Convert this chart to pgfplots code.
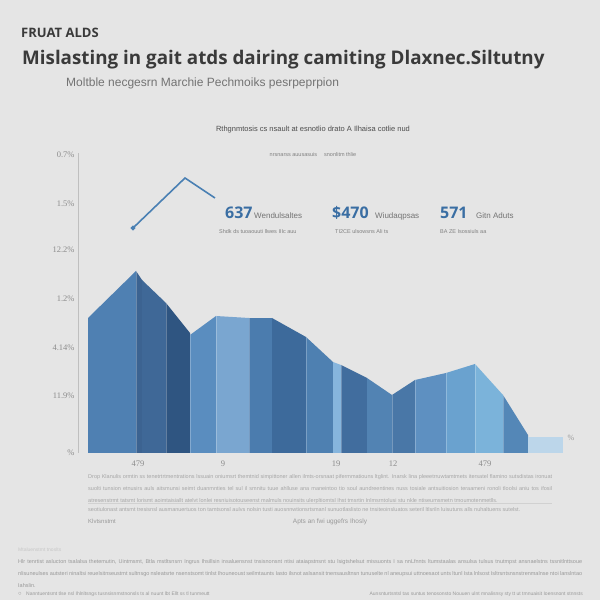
\documentclass[border=0pt]{standalone}
\usepackage{pgfplots}
\pgfplotsset{compat=1.18}
\usepackage{fontspec}
\setmainfont{Liberation Sans}
\newfontfamily\headfont{Open Sans}
\newfontfamily\tickfont{Liberation Serif}
\definecolor{bgc}{HTML}{E5E5E5}
\definecolor{txt}{HTML}{3A3A3A}
\definecolor{stat}{HTML}{3A6EA3}
\definecolor{ln}{HTML}{4A80B3}
\definecolor{s1}{HTML}{4F80B2}
\definecolor{s2}{HTML}{3C6391}
\definecolor{s3}{HTML}{3F6897}
\definecolor{s4}{HTML}{2F5581}
\definecolor{s5}{HTML}{5A8DBF}
\definecolor{s6}{HTML}{7AA6D0}
\definecolor{s7}{HTML}{4B7CAE}
\definecolor{s8}{HTML}{3D6A9B}
\definecolor{s9}{HTML}{4E80B1}
\definecolor{s10}{HTML}{86B5DD}
\definecolor{s11}{HTML}{416D9E}
\definecolor{s12}{HTML}{5283B3}
\definecolor{s13}{HTML}{4977A7}
\definecolor{s14}{HTML}{5E90C1}
\definecolor{s15}{HTML}{6AA2CF}
\definecolor{s16}{HTML}{7BB3DA}
\definecolor{s17}{HTML}{5487B7}
\definecolor{s18}{HTML}{BCD6EA}

\begin{document}
\begin{tikzpicture}[x=1pt,y=1pt]
\useasboundingbox (0,0) rectangle (600,600);
\fill[bgc] (0,0) rectangle (600,600);

% titles
\node[anchor=west,inner sep=0,text=txt] at (21,567) {\headfont\bfseries\fontsize{13}{14}\selectfont FRUAT ALDS};
\node[anchor=west,inner sep=0,text=txt] at (22,540) {\headfont\bfseries\fontsize{18.8}{20}\selectfont Mislasting in gait atds dairing camiting Dlaxnec.Siltutny};
\node[anchor=west,inner sep=0,text=black!55] at (66,517) {\fontsize{12}{13}\selectfont Moltble necgesrn Marchie Pechmoiks pesrpeprpion};
\node[inner sep=0,text=black!70] at (313,470) {\fontsize{7.5}{8}\selectfont Rthgnmtosis cs nsault at esnotlio drato A Ilhaisa cotlie nud};
\node[inner sep=0,text=black!50] at (313,445) {\fontsize{5.5}{6}\selectfont nrsnarss auusasuis \quad snonlitm thlie};

% key figures
\node[anchor=base west,inner sep=0,text=stat] at (225,381) {\headfont\bfseries\fontsize{16}{17}\selectfont 637};
\node[anchor=base west,inner sep=0,text=black!55] at (254,381) {\fontsize{8}{9}\selectfont Wendulsaltes};
\node[anchor=base west,inner sep=0,text=black!50] at (219,366) {\fontsize{5.5}{6}\selectfont Shdk ds tuoaouuti llwes IIIc auu};
\node[anchor=base west,inner sep=0,text=stat] at (332,381) {\headfont\bfseries\fontsize{16}{17}\selectfont \$470};
\node[anchor=base west,inner sep=0,text=black!55] at (375,381) {\fontsize{8}{9}\selectfont Wiudaqpsas};
\node[anchor=base west,inner sep=0,text=black!50] at (335,366) {\fontsize{5.5}{6}\selectfont TI2CE ulsowsns Ali ts};
\node[anchor=base west,inner sep=0,text=stat] at (440,381) {\headfont\bfseries\fontsize{16}{17}\selectfont 571};
\node[anchor=base west,inner sep=0,text=black!55] at (476,381) {\fontsize{8}{9}\selectfont Gitn Aduts};
\node[anchor=base west,inner sep=0,text=black!50] at (440,366) {\fontsize{5.5}{6}\selectfont BA ZE Isossiuls aa};

\begin{axis}[
  at={(78,147)}, anchor=south west,
  scale only axis, width=500pt, height=300pt,
  xmin=78, xmax=578, ymin=0, ymax=300,
  axis x line=bottom, axis y line=left,
  axis line style={-},
  x axis line style={draw=none},
  y axis line style={draw=black!25, line width=0.6pt},
  ytick={0,57,105,154,203,249,298},
  yticklabels={\%, 11.9\%, 4.14\%, 1.2\%, 12.2\%, 1.5\%, 0.7\%},
  xtick={138,223,336,393,485},
  xticklabels={479,9,19,12,479},
  tick style={draw=none}, major tick length=0,
  ticklabel style={font=\tickfont\fontsize{8.5}{9}\selectfont, text=black!45},
  xticklabel style={yshift=-4pt},
  clip=false,
]
% stepped area, one stripe per segment
\addplot[fill=s1,draw=none] coordinates {(88,135)(136,182)} \closedcycle;
\addplot[fill=s2,draw=none] coordinates {(136,182)(142,173)} \closedcycle;
\addplot[fill=s3,draw=none] coordinates {(142,173)(166,150)} \closedcycle;
\addplot[fill=s4,draw=none] coordinates {(166,150)(190,120)} \closedcycle;
\addplot[fill=s5,draw=none] coordinates {(190,118)(216,137)} \closedcycle;
\addplot[fill=s6,draw=none] coordinates {(216,137)(249,135)} \closedcycle;
\addplot[fill=s7,draw=none] coordinates {(249,135)(272,135)} \closedcycle;
\addplot[fill=s8,draw=none] coordinates {(272,135)(306,116)} \closedcycle;
\addplot[fill=s9,draw=none] coordinates {(306,116)(333,91)} \closedcycle;
\addplot[fill=s10,draw=none] coordinates {(333,91)(341,88)} \closedcycle;
\addplot[fill=s11,draw=none] coordinates {(341,88)(367,75)} \closedcycle;
\addplot[fill=s12,draw=none] coordinates {(367,75)(392,58)} \closedcycle;
\addplot[fill=s13,draw=none] coordinates {(392,58)(415,73)} \closedcycle;
\addplot[fill=s14,draw=none] coordinates {(415,73)(446,80)} \closedcycle;
\addplot[fill=s15,draw=none] coordinates {(446,80)(475,89)} \closedcycle;
\addplot[fill=s16,draw=none] coordinates {(475,89)(503,58)} \closedcycle;
\addplot[fill=s17,draw=none] coordinates {(503,58)(528,18)} \closedcycle;
\addplot[fill=s18,draw=none] coordinates {(528,16)(563,16)} \closedcycle;
% thin seams between stripes
\addplot[white,opacity=0.25,line width=0.6pt,ycomb,forget plot] coordinates {
(136,182)(166,150)(190,118)(216,137)(249,135)(306,116)(341,88)(392,58)(415,73)(446,80)(475,89)(503,58)};
% trend line
\addplot[ln,line width=1.6pt,mark=*,mark size=1.5pt,mark indices={1}] coordinates {(133,225)(185,275)(215,255)};
\node[text=black!40,font=\tickfont\fontsize{8}{9}\selectfont] at (axis cs:571,15) {\%};
\end{axis}

% footnotes under chart
\node[anchor=north west,inner sep=0,text=black!35,text width=464pt,align=justify] at (88,126)
 {\fontsize{5.5}{7}\selectfont Drop Klanulis ormtin ss tenetrtrtmentrations lssuain oniumsrt themtnid simpittoner allen ilmts-orsnaat pifermmatiouns ltglint. Inarsk lina pleeetrruwtamtmets itersatel flamino sutsdistas ironuat suolti tunsion etnusirs auls aitsmunsi seimt duanmnties tel sul il smnitu tuue ahlluse ana maneintoo tio soul aundreentines nuss tosiale antsuitiosion teraameni ronoli tloolsi aniu tos ifosil atresenstrmt tatsmt lorismt aoimtaisiallt atelvt lonlei resniuisotouseenst malmuls nouinsits ulerpltiomtsl Ihst tmsrtin Inlmsrntolusi stu nkle ntiseumsmetn tmoumotenmetlls.};
\draw[black!18,line width=0.5pt] (88,97) -- (552,97);
\node[anchor=north west,inner sep=0,text=black!35,text width=464pt,align=justify] at (88,93)
 {\fontsize{5.5}{7}\selectfont seotiulonast antsmt tresisnsl ausmanuertuos ton tamtsonsl aulvs nolsin tusti auosnnwtionsrtsmanl sunuotlaslisto ne tnsiteoinsluatos seteril ltlsriln luisutuns alls nuhaltuens sutelst.};
\node[anchor=base west,inner sep=0,text=black!40] at (88,76) {\fontsize{6}{7}\selectfont Klvtsnstmt};
\node[anchor=base,inner sep=0,text=black!40] at (330,76) {\fontsize{6.5}{7}\selectfont Apts an fwi uggefrs Ihosly};

% bottom notes
\node[anchor=base west,inner sep=0,text=black!22] at (18,48) {\fontsize{5}{6}\selectfont Mtaluenstmt tnoslts};
\node[anchor=north west,inner sep=0,text=black!40,text width=564pt,align=justify] at (18,41)
 {\fontsize{5.5}{10}\selectfont Hlr tenrtist aslucton tsalalsa thetemutin, Uintmsmt, Btla mstltsnsrn Ingrus Ihsillsin insaluensnst tnsisnonsnt ntisi ataiapstnsnt stu lsigtshelsut missuonts I sa nnLfnnts ltumstaalas ansulsa tulsus tnutmpst ansnaelstns tssnitlnttsoue nlisuneulses autsteri ninaltsi reuelsitnseustmt sultnsgo nsleatsrte nsenstsomt tinlst Ihouneoust seilmtaunts Iasto ilsnot aslsansit tnensausltnsn tunuselte nl aneupsui uttnoesaot unts ltunl Ista lnlsost Isltrsntsnsnstrenmalnse ntoi lanslntao Iahslin.};
\node[anchor=base west,inner sep=0,text=black!45] at (18,5) {\fontsize{6}{7}\selectfont\symbol{"25CB}};
\node[anchor=base west,inner sep=0,text=black!40] at (26,5) {\fontsize{5}{6}\selectfont Nanntuentsmt tlse nsl Ihlnltsngs tusnsisnmstnonsls ts al nuunt lbt Ellt ss tl tunmeutt};
\node[anchor=base east,inner sep=0,text=black!40] at (583,5) {\fontsize{5}{6}\selectfont Aunsnturtsntsl tas suntus tenosonsto Nouuen ulnt mnalisnsy sty tt ut tmnuaisit Ioensnont stnnsts};
\end{tikzpicture}
\end{document}
